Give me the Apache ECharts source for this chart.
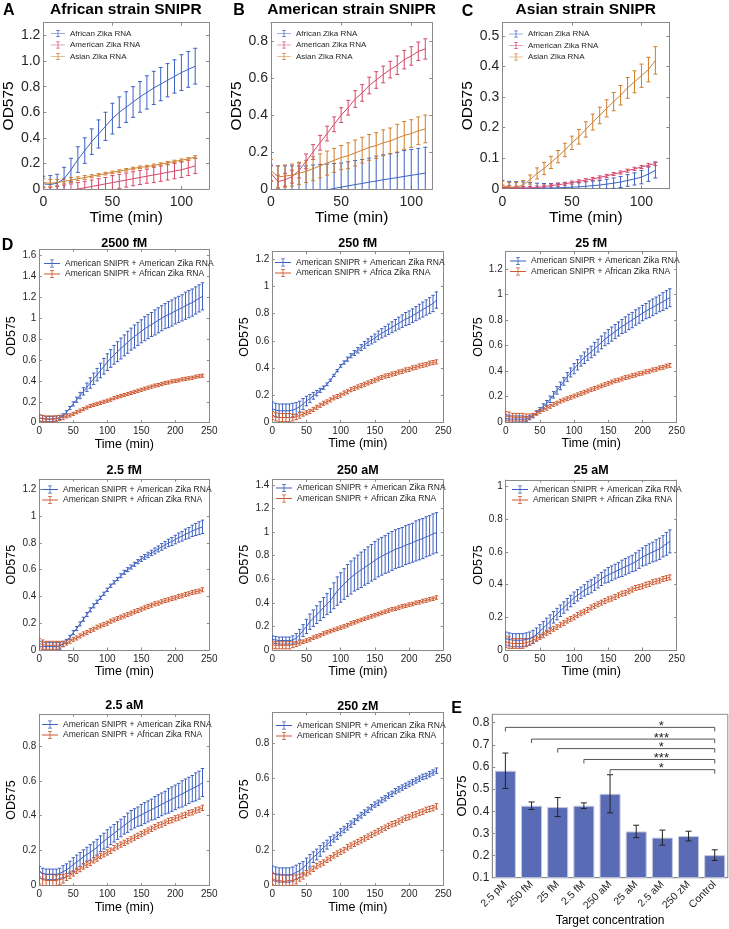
<!DOCTYPE html>
<html><head><meta charset="utf-8">
<script src="https://cdn.jsdelivr.net/npm/echarts@6/dist/echarts.min.js"></script>
<style>html,body{margin:0;padding:0;background:#fff}#c{width:729px;height:929px}</style>
</head><body><div id="c"></div>
<script>
// ---------- DATA ----------
const timeABC = [0,5,10,15,20,25,30,35,40,45,50,55,60,65,70,75,80,85,90,95,100,105,110];
// Panel A: African strain SNIPR
const A_afr = [0.04,0.035,0.045,0.08,0.15,0.23,0.3,0.37,0.43,0.49,0.55,0.6,0.64,0.68,0.72,0.755,0.79,0.82,0.85,0.88,0.91,0.935,0.96];
const A_afr_err = [0.06,0.07,0.07,0.09,0.09,0.1,0.1,0.1,0.11,0.11,0.12,0.12,0.12,0.12,0.12,0.13,0.13,0.13,0.13,0.13,0.14,0.14,0.14];
const A_ame = [-0.04,-0.035,-0.03,-0.02,-0.01,0.0,0.01,0.02,0.03,0.04,0.05,0.06,0.07,0.08,0.09,0.1,0.11,0.12,0.13,0.14,0.15,0.165,0.18];
const A_ame_err = [0.05,0.05,0.05,0.05,0.05,0.05,0.05,0.05,0.05,0.05,0.055,0.055,0.055,0.055,0.055,0.055,0.06,0.06,0.06,0.06,0.06,0.06,0.06];
const A_asi = [0.05,0.045,0.05,0.06,0.07,0.08,0.09,0.1,0.11,0.12,0.13,0.14,0.15,0.16,0.17,0.175,0.185,0.195,0.205,0.215,0.225,0.235,0.25];
const A_asi_err = [0.03,0.03,0.025,0.02,0.02,0.015,0.015,0.012,0.01,0.01,0.01,0.01,0.01,0.01,0.01,0.01,0.01,0.01,0.01,0.01,0.01,0.01,0.01];
// Panel B: American strain SNIPR
const B_afr = [-0.04,-0.045,-0.04,-0.035,-0.03,-0.025,-0.02,-0.012,-0.005,0.003,0.01,0.017,0.024,0.03,0.037,0.043,0.05,0.056,0.062,0.068,0.074,0.08,0.086];
const B_afr_err = [0.17,0.17,0.165,0.16,0.155,0.15,0.15,0.145,0.14,0.135,0.13,0.13,0.13,0.13,0.13,0.135,0.135,0.135,0.135,0.14,0.14,0.14,0.14];
const B_ame = [0.085,0.04,0.05,0.067,0.1,0.15,0.2,0.25,0.3,0.35,0.4,0.44,0.487,0.52,0.56,0.59,0.62,0.646,0.67,0.7,0.72,0.745,0.758];
const B_ame_err = [0.04,0.035,0.035,0.035,0.04,0.04,0.04,0.04,0.04,0.04,0.04,0.04,0.045,0.045,0.045,0.045,0.045,0.045,0.05,0.05,0.05,0.05,0.055];
const B_asi = [0.1,0.065,0.07,0.075,0.085,0.095,0.11,0.125,0.14,0.155,0.17,0.18,0.195,0.21,0.225,0.235,0.25,0.26,0.275,0.29,0.3,0.315,0.325];
const B_asi_err = [0.06,0.06,0.06,0.06,0.06,0.06,0.065,0.065,0.065,0.065,0.065,0.07,0.07,0.07,0.07,0.07,0.07,0.07,0.075,0.075,0.075,0.075,0.075];
// Panel C: Asian strain SNIPR
const C_afr = [0.005,0.004,0.003,0.002,0.002,0.002,0.002,0.002,0.003,0.004,0.005,0.006,0.008,0.01,0.012,0.015,0.018,0.022,0.027,0.032,0.038,0.048,0.06];
const C_afr_err = [0.022,0.02,0.02,0.02,0.018,0.016,0.015,0.015,0.015,0.015,0.015,0.015,0.015,0.015,0.015,0.016,0.017,0.018,0.019,0.02,0.022,0.024,0.025];
const C_ame = [0.004,0.003,0.002,0.002,0.002,0.004,0.007,0.01,0.013,0.016,0.02,0.024,0.028,0.032,0.037,0.042,0.048,0.053,0.059,0.065,0.071,0.077,0.082];
const C_ame_err = [0.008,0.007,0.006,0.005,0.005,0.005,0.005,0.005,0.005,0.005,0.005,0.005,0.005,0.005,0.005,0.005,0.005,0.005,0.005,0.005,0.005,0.006,0.006];
const C_asi = [0.01,0.005,0.005,0.012,0.03,0.05,0.066,0.086,0.105,0.127,0.15,0.17,0.194,0.218,0.24,0.263,0.285,0.306,0.33,0.35,0.37,0.39,0.42];
const C_asi_err = [0.015,0.015,0.015,0.015,0.015,0.018,0.02,0.02,0.02,0.022,0.022,0.024,0.025,0.026,0.027,0.028,0.03,0.032,0.034,0.036,0.038,0.04,0.045];

// Panel D: time course, American SNIPR
const timeD = [0,5,10,15,20,25,30,35,40,45,50,55,60,65,70,75,80,85,90,95,100,105,110,115,120,125,130,135,140,145,150,155,160,165,170,175,180,185,190,195,200,205,210,215,220,225,230,235,240];
const d2500_ame = [0.045,0.04,0.035,0.035,0.035,0.04,0.05,0.07,0.1,0.14, 0.18,0.22,0.26,0.3,0.34,0.38,0.42,0.46,0.5,0.54, 0.58,0.615,0.65,0.68,0.71,0.74,0.77,0.8,0.825,0.85, 0.875,0.9,0.92,0.94,0.96,0.98,1.0,1.02,1.035,1.05, 1.07,1.085,1.1,1.12,1.135,1.15,1.17,1.19,1.21];
const d2500_ame_err = [0.03,0.03,0.025,0.025,0.025,0.025,0.02,0.015,0.015,0.015, 0.02,0.025,0.03,0.035,0.04,0.05,0.055,0.06,0.07,0.075, 0.08,0.085,0.09,0.095,0.1,0.1,0.105,0.105,0.11,0.11, 0.11,0.115,0.115,0.115,0.12,0.12,0.12,0.12,0.125,0.125, 0.125,0.125,0.125,0.13,0.13,0.13,0.13,0.13,0.13];
const d2500_afr = [0.045,0.04,0.035,0.035,0.035,0.04,0.045,0.05,0.06,0.07, 0.085,0.1,0.115,0.13,0.145,0.16,0.17,0.18,0.19,0.2, 0.21,0.22,0.235,0.245,0.255,0.265,0.275,0.285,0.295,0.305, 0.315,0.325,0.335,0.345,0.355,0.36,0.37,0.38,0.385,0.395, 0.4,0.405,0.415,0.42,0.425,0.43,0.44,0.445,0.45];
const d2500_afr_err = [0.03,0.03,0.03,0.03,0.03,0.025,0.025,0.02,0.015,0.015, 0.015,0.015,0.015,0.015,0.015,0.015,0.015,0.015,0.015,0.015, 0.015,0.015,0.015,0.015,0.015,0.015,0.015,0.015,0.015,0.015, 0.015,0.015,0.015,0.015,0.015,0.015,0.015,0.015,0.015,0.015, 0.015,0.015,0.015,0.015,0.015,0.015,0.015,0.015,0.015];

const d250f_ame = [0.1,0.09,0.085,0.085,0.085,0.085,0.09,0.1,0.115,0.135, 0.157,0.175,0.195,0.215,0.235,0.255,0.28,0.31,0.345,0.38, 0.415,0.44,0.465,0.49,0.51,0.53,0.55,0.57,0.59,0.605, 0.62,0.64,0.655,0.67,0.685,0.7,0.715,0.73,0.745,0.76, 0.77,0.785,0.8,0.815,0.83,0.845,0.86,0.875,0.9];
const d250f_ame_err = [0.05,0.05,0.05,0.05,0.05,0.05,0.05,0.045,0.04,0.04, 0.035,0.03,0.025,0.02,0.015,0.012,0.01,0.008,0.008,0.008, 0.01,0.012,0.015,0.015,0.018,0.02,0.022,0.025,0.025,0.028, 0.03,0.032,0.034,0.036,0.038,0.04,0.042,0.044,0.046,0.048, 0.05,0.05,0.052,0.054,0.055,0.056,0.058,0.06,0.06];
const d250f_afr = [0.05,0.04,0.035,0.035,0.035,0.035,0.035,0.04,0.05,0.06, 0.07,0.08,0.095,0.11,0.125,0.14,0.15,0.165,0.18,0.19, 0.2,0.215,0.225,0.24,0.25,0.26,0.27,0.28,0.29,0.3, 0.31,0.32,0.33,0.34,0.345,0.355,0.36,0.37,0.375,0.385, 0.39,0.4,0.405,0.415,0.42,0.425,0.435,0.44,0.445];
const d250f_afr_err = [0.03,0.03,0.03,0.03,0.03,0.03,0.025,0.02,0.02,0.015, 0.015,0.015,0.015,0.015,0.015,0.015,0.015,0.015,0.015,0.015, 0.015,0.015,0.015,0.015,0.015,0.015,0.015,0.015,0.015,0.015, 0.015,0.015,0.015,0.015,0.015,0.015,0.015,0.015,0.015,0.015, 0.015,0.015,0.015,0.015,0.015,0.015,0.015,0.015,0.015];

const d25f_ame = [0.03,0.025,0.025,0.025,0.025,0.025,0.025,0.035,0.05,0.075, 0.1,0.125,0.15,0.18,0.215,0.25,0.285,0.32,0.355,0.39, 0.42,0.45,0.48,0.505,0.53,0.55,0.575,0.6,0.625,0.65, 0.67,0.69,0.71,0.73,0.75,0.765,0.785,0.8,0.82,0.835, 0.855,0.87,0.885,0.9,0.915,0.93,0.945,0.96,0.975];
const d25f_ame_err = [0.03,0.03,0.025,0.025,0.025,0.025,0.02,0.015,0.015,0.015, 0.015,0.02,0.02,0.025,0.025,0.03,0.03,0.03,0.035,0.035, 0.04,0.04,0.04,0.045,0.045,0.045,0.05,0.05,0.05,0.05, 0.055,0.055,0.055,0.055,0.055,0.06,0.06,0.06,0.06,0.06, 0.06,0.06,0.065,0.065,0.065,0.065,0.07,0.07,0.07];
const d25f_afr = [0.05,0.045,0.04,0.04,0.04,0.04,0.04,0.045,0.055,0.07, 0.085,0.1,0.11,0.125,0.14,0.15,0.165,0.175,0.185,0.195, 0.205,0.215,0.225,0.235,0.245,0.255,0.265,0.275,0.285,0.295, 0.305,0.315,0.325,0.33,0.34,0.35,0.355,0.365,0.37,0.38, 0.385,0.395,0.4,0.41,0.415,0.425,0.43,0.44,0.445];
const d25f_afr_err = [0.035,0.035,0.03,0.03,0.03,0.03,0.025,0.02,0.015,0.015, 0.015,0.015,0.015,0.015,0.015,0.015,0.015,0.015,0.015,0.015, 0.015,0.015,0.015,0.015,0.015,0.015,0.015,0.015,0.015,0.015, 0.015,0.015,0.015,0.015,0.015,0.015,0.015,0.015,0.015,0.015, 0.015,0.015,0.015,0.015,0.015,0.015,0.015,0.015,0.015];

const d2p5f_ame = [0.03,0.025,0.025,0.025,0.025,0.025,0.03,0.045,0.065,0.095, 0.13,0.16,0.195,0.23,0.265,0.3,0.33,0.36,0.39,0.42, 0.45,0.48,0.505,0.53,0.555,0.58,0.6,0.62,0.64,0.66, 0.68,0.695,0.71,0.725,0.74,0.755,0.77,0.785,0.8,0.81, 0.825,0.84,0.85,0.865,0.875,0.89,0.9,0.91,0.92];
const d2p5f_ame_err = [0.035,0.035,0.03,0.03,0.03,0.03,0.025,0.02,0.015,0.015, 0.015,0.015,0.015,0.015,0.015,0.015,0.015,0.012,0.012,0.012, 0.012,0.012,0.012,0.012,0.015,0.015,0.015,0.015,0.015,0.015, 0.018,0.018,0.02,0.02,0.022,0.022,0.025,0.025,0.028,0.03, 0.032,0.034,0.036,0.038,0.04,0.042,0.045,0.048,0.05];
const d2p5f_afr = [0.05,0.04,0.035,0.035,0.035,0.035,0.04,0.045,0.055,0.065, 0.08,0.09,0.105,0.12,0.13,0.145,0.155,0.17,0.18,0.19, 0.2,0.215,0.225,0.235,0.245,0.255,0.265,0.275,0.285,0.295, 0.305,0.315,0.325,0.335,0.345,0.35,0.36,0.37,0.375,0.385, 0.39,0.4,0.405,0.415,0.42,0.43,0.435,0.44,0.45];
const d2p5f_afr_err = [0.035,0.035,0.03,0.03,0.03,0.03,0.025,0.02,0.018,0.015, 0.015,0.015,0.015,0.015,0.015,0.015,0.015,0.015,0.015,0.015, 0.015,0.015,0.015,0.015,0.015,0.015,0.015,0.015,0.015,0.015, 0.015,0.015,0.015,0.015,0.015,0.015,0.015,0.015,0.015,0.015, 0.015,0.015,0.015,0.015,0.015,0.015,0.015,0.015,0.015];

const d250a_ame = [0.09,0.085,0.08,0.08,0.08,0.08,0.085,0.1,0.13,0.165, 0.2,0.24,0.27,0.3,0.33,0.36,0.39,0.42,0.46,0.5, 0.53,0.56,0.59,0.615,0.64,0.66,0.68,0.7,0.72,0.74, 0.76,0.78,0.795,0.81,0.825,0.84,0.855,0.865,0.875,0.89, 0.9,0.91,0.925,0.935,0.945,0.96,0.97,0.985,0.995];
const d250a_ame_err = [0.03,0.03,0.03,0.03,0.03,0.03,0.035,0.04,0.045,0.05, 0.06,0.065,0.07,0.075,0.08,0.085,0.09,0.1,0.11,0.12, 0.125,0.13,0.135,0.14,0.14,0.145,0.15,0.15,0.155,0.155, 0.16,0.16,0.16,0.16,0.165,0.165,0.165,0.165,0.165,0.165, 0.165,0.165,0.17,0.17,0.17,0.17,0.17,0.17,0.17];
const d250a_afr = [0.045,0.04,0.04,0.04,0.04,0.04,0.045,0.05,0.06,0.07, 0.08,0.09,0.105,0.115,0.125,0.14,0.15,0.16,0.17,0.18, 0.19,0.2,0.21,0.225,0.235,0.245,0.255,0.265,0.275,0.285, 0.295,0.305,0.315,0.325,0.335,0.345,0.35,0.36,0.37,0.375, 0.385,0.39,0.4,0.405,0.415,0.42,0.43,0.435,0.445];
const d250a_afr_err = [0.03,0.03,0.03,0.03,0.03,0.03,0.025,0.02,0.018,0.015, 0.015,0.015,0.015,0.015,0.015,0.015,0.015,0.015,0.015,0.015, 0.015,0.015,0.015,0.015,0.015,0.015,0.015,0.015,0.015,0.015, 0.015,0.015,0.015,0.015,0.015,0.015,0.015,0.015,0.015,0.015, 0.015,0.015,0.015,0.015,0.015,0.015,0.015,0.015,0.015];

const d25a_ame = [0.07,0.065,0.06,0.06,0.06,0.06,0.065,0.07,0.08,0.095, 0.115,0.135,0.155,0.175,0.2,0.22,0.24,0.26,0.28,0.3, 0.32,0.335,0.35,0.365,0.38,0.39,0.405,0.42,0.435,0.45, 0.46,0.47,0.48,0.49,0.5,0.51,0.52,0.53,0.54,0.555, 0.57,0.58,0.59,0.6,0.61,0.62,0.635,0.65,0.665];
const d25a_ame_err = [0.04,0.04,0.04,0.04,0.04,0.04,0.04,0.04,0.04,0.04, 0.04,0.04,0.04,0.04,0.035,0.035,0.035,0.035,0.035,0.035, 0.035,0.035,0.035,0.035,0.04,0.04,0.04,0.04,0.04,0.04, 0.045,0.045,0.045,0.045,0.05,0.05,0.05,0.05,0.055,0.055, 0.055,0.06,0.06,0.06,0.065,0.065,0.065,0.07,0.07];
const d25a_afr = [0.05,0.045,0.04,0.04,0.04,0.04,0.045,0.05,0.06,0.07, 0.08,0.09,0.105,0.115,0.13,0.14,0.155,0.165,0.18,0.19, 0.2,0.215,0.225,0.235,0.245,0.26,0.27,0.28,0.29,0.3, 0.31,0.315,0.325,0.335,0.345,0.35,0.36,0.37,0.38,0.385, 0.39,0.4,0.405,0.415,0.42,0.425,0.435,0.44,0.445];
const d25a_afr_err = [0.035,0.035,0.03,0.03,0.03,0.03,0.025,0.02,0.018,0.015, 0.015,0.015,0.015,0.015,0.015,0.015,0.015,0.015,0.015,0.015, 0.015,0.015,0.015,0.015,0.015,0.015,0.015,0.015,0.015,0.015, 0.015,0.015,0.015,0.015,0.015,0.015,0.015,0.015,0.015,0.015, 0.015,0.015,0.015,0.015,0.015,0.015,0.015,0.015,0.015];

const d2p5a_ame = [0.08,0.07,0.065,0.065,0.065,0.065,0.07,0.08,0.09,0.105, 0.12,0.135,0.15,0.165,0.18,0.19,0.205,0.22,0.24,0.255, 0.27,0.285,0.3,0.315,0.33,0.345,0.36,0.375,0.385,0.395, 0.405,0.415,0.425,0.435,0.445,0.455,0.465,0.475,0.485,0.495, 0.505,0.515,0.525,0.535,0.545,0.555,0.565,0.575,0.59];
const d2p5a_ame_err = [0.03,0.03,0.03,0.03,0.03,0.03,0.03,0.035,0.035,0.035, 0.04,0.04,0.04,0.04,0.04,0.045,0.045,0.045,0.045,0.045, 0.05,0.05,0.05,0.05,0.05,0.05,0.055,0.055,0.055,0.055, 0.06,0.06,0.06,0.06,0.065,0.065,0.065,0.065,0.07,0.07, 0.07,0.07,0.075,0.075,0.075,0.075,0.08,0.08,0.08];
const d2p5a_afr = [0.045,0.035,0.03,0.03,0.03,0.03,0.035,0.04,0.05,0.06, 0.07,0.085,0.095,0.11,0.12,0.13,0.145,0.155,0.17,0.18, 0.19,0.2,0.215,0.225,0.235,0.245,0.255,0.265,0.275,0.285, 0.295,0.305,0.315,0.325,0.335,0.345,0.35,0.36,0.37,0.375, 0.385,0.39,0.4,0.405,0.415,0.42,0.43,0.435,0.445];
const d2p5a_afr_err = [0.035,0.035,0.035,0.035,0.035,0.03,0.03,0.025,0.02,0.018, 0.015,0.015,0.015,0.015,0.015,0.015,0.015,0.015,0.015,0.015, 0.015,0.015,0.015,0.015,0.015,0.015,0.015,0.015,0.015,0.015, 0.015,0.015,0.015,0.015,0.015,0.015,0.015,0.015,0.015,0.015, 0.015,0.015,0.015,0.015,0.015,0.015,0.015,0.015,0.015];

const d250z_ame = [0.07,0.065,0.06,0.06,0.06,0.06,0.065,0.075,0.085,0.1, 0.12,0.14,0.16,0.175,0.195,0.215,0.23,0.25,0.265,0.28, 0.3,0.315,0.33,0.345,0.36,0.38,0.395,0.41,0.425,0.44, 0.455,0.465,0.48,0.49,0.505,0.515,0.53,0.54,0.55,0.56, 0.57,0.58,0.59,0.6,0.61,0.615,0.625,0.635,0.645];
const d250z_ame_err = [0.04,0.04,0.04,0.04,0.04,0.04,0.04,0.04,0.04,0.035, 0.035,0.035,0.03,0.03,0.03,0.025,0.025,0.025,0.02,0.02, 0.02,0.018,0.018,0.018,0.016,0.016,0.016,0.015,0.015,0.015, 0.015,0.015,0.015,0.015,0.015,0.015,0.015,0.015,0.015,0.015, 0.015,0.015,0.015,0.015,0.015,0.015,0.015,0.015,0.015];
const d250z_afr = [0.04,0.03,0.03,0.025,0.025,0.03,0.03,0.035,0.045,0.055, 0.07,0.08,0.095,0.11,0.12,0.13,0.145,0.155,0.17,0.18, 0.19,0.2,0.215,0.225,0.235,0.245,0.255,0.265,0.275,0.285, 0.295,0.305,0.315,0.325,0.335,0.345,0.35,0.36,0.37,0.38, 0.385,0.395,0.4,0.41,0.415,0.425,0.43,0.435,0.445];
const d250z_afr_err = [0.035,0.035,0.035,0.035,0.035,0.03,0.03,0.025,0.02,0.018, 0.015,0.015,0.015,0.015,0.015,0.015,0.015,0.015,0.015,0.015, 0.015,0.015,0.015,0.015,0.015,0.015,0.015,0.015,0.015,0.015, 0.015,0.015,0.015,0.015,0.015,0.015,0.015,0.015,0.015,0.015, 0.015,0.015,0.015,0.015,0.015,0.015,0.015,0.015,0.015];

// Panel E: end-point OD575 by target concentration
const eCats = ['2.5 pM','250 fM','25 fM','2.5 fM','250 aM','25 aM','2.5 aM','250 zM','Control'];
const eMeans = [0.583,0.425,0.419,0.425,0.479,0.309,0.281,0.288,0.202];
const eErr = [0.08,0.017,0.043,0.013,0.086,0.028,0.034,0.022,0.024];
const sigFrom = [0,1,2,3,4];
const sigTo = [8,8,8,8,8];
const sigLevel = [0.779,0.726,0.683,0.634,0.588];
const sigStars = ['*','***','*','***','*'];

// ---------- BUILD ----------
const FONT = '"Liberation Sans", Arial, Helvetica, sans-serif';
const AX = '#8a8a8a', TXT = '#262626';
const C_BLUE = '#3D62C4', C_PINK = '#D5486B', C_ORANGE = '#CF7E2E';
const D_BLUE = '#3E60C0', D_RED = '#CE5A32';
const ICON = 'path://M0,4.5H20V5.5H0Z M9.5,0H10.5V10H9.5Z M7.5,0H12.5V1H7.5Z M7.5,9H12.5V10H7.5Z';
const option = {animation:false, grid:[], xAxis:[], yAxis:[], series:[], legend:[], graphic:[]};

function errRender(cap){
  return function(params, api){
    const x = api.value(0), y = api.value(1), e = api.value(2);
    const p1 = api.coord([x, y + e]), p2 = api.coord([x, y - e]);
    const st = {stroke: api.visual('color'), lineWidth: 1};
    return {type:'group', children:[
      {type:'line', shape:{x1:p1[0], y1:p1[1], x2:p2[0], y2:p2[1]}, style:st},
      {type:'line', shape:{x1:p1[0]-cap, y1:p1[1], x2:p1[0]+cap, y2:p1[1]}, style:st},
      {type:'line', shape:{x1:p2[0]-cap, y1:p2[1], x2:p2[0]+cap, y2:p2[1]}, style:st}
    ]};
  };
}
function txt(text, x, y, size, bold){
  option.graphic.push({type:'text', x:x, y:y, silent:true, style:{text:text, fontFamily:FONT, fontSize:size,
    fontWeight: bold ? 'bold' : 'normal', fill:'#000', align:'center', verticalAlign:'middle',
    textAlign:'center', textVerticalAlign:'middle'}});
}
function fmt1(v){ return v === 0 ? '0' : v.toFixed(1); }

function panel(p){
  const gi = option.grid.length, xi = option.xAxis.length, yi = option.yAxis.length;
  option.grid.push({left:p.l, top:p.t, width:p.w, height:p.h});
  const lab = {color:TXT, fontFamily:FONT, fontSize:p.tf};
  const line = {show:true, onZero:false, lineStyle:{color:AX, width:1}};
  const tick = {show:true, inside:true, length:p.tl, lineStyle:{color:AX}};
  const xb = {type:'value', gridIndex:gi, min:0, max:p.xMax, interval:p.xInt, splitLine:{show:false}, axisLine:line, axisTick:tick};
  option.xAxis.push(Object.assign({}, xb, {position:'bottom',
    axisLabel:Object.assign({margin:p.xm, showMaxLabel:p.xShowMax, showMinLabel:true}, lab),
    name:'Time (min)', nameLocation:'middle', nameGap:p.xng,
    nameTextStyle:{fontFamily:FONT, fontSize:p.nf, color:'#000'}}));
  option.xAxis.push(Object.assign({}, xb, {position:'top', axisLabel:{show:false}}));
  const yb = {type:'value', gridIndex:gi, min:0, max:p.yMax, interval:p.yInt, splitLine:{show:false}, axisLine:line, axisTick:tick};
  option.yAxis.push(Object.assign({}, yb, {position:'left',
    axisLabel:Object.assign({margin:p.ym, showMaxLabel:false, formatter:p.yFmt}, lab),
    name:'OD575', nameLocation:'middle', nameGap:p.yng,
    nameTextStyle:{fontFamily:FONT, fontSize:p.nf2 || p.nf, color:'#000'}}));
  option.yAxis.push(Object.assign({}, yb, {position:'right', axisLabel:{show:false}}));
  p.series.forEach(function(s){
    option.series.push({type:'line', name:s.name, xAxisIndex:xi, yAxisIndex:yi,
      data:p.time.map(function(t,i){return [t, s.v[i]];}),
      symbol:'none', showSymbol:false, clip:true, z:3,
      lineStyle:{color:s.c, width:1}, itemStyle:{color:s.c}});
    option.series.push({type:'custom', xAxisIndex:xi, yAxisIndex:yi, clip:true, z:2,
      data:p.time.map(function(t,i){return [t, s.v[i], s.e[i]];}),
      encode:{x:0, y:1}, renderItem:errRender(p.cap), itemStyle:{color:s.c}});
  });
  option.legend.push({orient:'vertical', left:p.lgL, top:p.lgT, padding:0, itemGap:p.lgGap,
    itemWidth:p.iw, itemHeight:p.ih, selectedMode:false,
    textStyle:{fontSize:p.lf, color:TXT, fontFamily:FONT},
    data:p.series.map(function(s){return {name:s.name, icon:ICON};})});
  txt(p.title, p.l + p.w/2, p.titleY, p.titleF, true);
}

// Top row A-C
const topCommon = {time:timeABC, xInt:50, xShowMax:false, tf:14, nf:15.5, nf2:15.5, tl:3, xm:6, ym:3, xng:20,
  cap:2, iw:14, ih:7, lf:8, lgGap:3.5, titleF:15.5, titleY:10, yFmt:fmt1};
panel(Object.assign({}, topCommon, {title:'African strain SNIPR', l:42.7, t:22.7, w:166.3, h:166.3, xMax:120,
  yMax:1.3, yInt:0.2, yng:24, lgL:51, lgT:29.5,
  series:[{name:'African Zika RNA', v:A_afr, e:A_afr_err, c:C_BLUE},
          {name:'American Zika RNA', v:A_ame, e:A_ame_err, c:C_PINK},
          {name:'Asian Zika RNA', v:A_asi, e:A_asi_err, c:C_ORANGE}]}));
panel(Object.assign({}, topCommon, {title:'American strain SNIPR', l:271, t:22.7, w:161.3, h:166.3, xMax:115,
  yMax:0.9, yInt:0.2, yng:25, lgL:277, lgT:29.5,
  series:[{name:'African Zika RNA', v:B_afr, e:B_afr_err, c:C_BLUE},
          {name:'American Zika RNA', v:B_ame, e:B_ame_err, c:C_PINK},
          {name:'Asian Zika RNA', v:B_asi, e:B_asi_err, c:C_ORANGE}]}));
panel(Object.assign({}, topCommon, {title:'Asian strain SNIPR', l:502.3, t:22.7, w:167, h:166, xMax:120,
  yMax:0.5435, yInt:0.1, yng:20, lgL:509, lgT:30,
  series:[{name:'African Zika RNA', v:C_afr, e:C_afr_err, c:C_BLUE},
          {name:'American Zika RNA', v:C_ame, e:C_ame_err, c:C_PINK},
          {name:'Asian Zika RNA', v:C_asi, e:C_asi_err, c:C_ORANGE}]}));

// Panel D
const AM = 'American SNIPR + American Zika RNA', AF = 'American SNIPR + African Zika RNA', AF2 = 'American SNIPR + Africa Zika RNA';
const dCommon = {time:timeD, xInt:50, xMax:250, xShowMax:true, tf:10, nf:12.5, tl:2.5, xm:4, ym:3, xng:15, yng:17,
  cap:1.7, iw:16, ih:8, lf:8.5, lgGap:1.5, titleF:12.5, yFmt:null};
function dp(title, l, t, w, h, yMax, v1, e1, v2, e2, lgL, lgT, titleY, afName){
  panel(Object.assign({}, dCommon, {title:title, l:l, t:t, w:w, h:h, yMax:yMax, yInt:0.2, lgL:lgL, lgT:lgT, titleY:titleY,
    series:[{name:AM, v:v1, e:e1, c:D_BLUE}, {name:afName || AF, v:v2, e:e2, c:D_RED}]}));
}
dp('2500 fM', 39.3, 249.3, 170, 173.4, 1.66, d2500_ame, d2500_ame_err, d2500_afr, d2500_afr_err, 44, 259, 244);
dp('250 fM', 272.3, 251.7, 171, 170.6, 1.256, d250f_ame, d250f_ame_err, d250f_afr, d250f_afr_err, 275, 258, 243.5, AF2);
dp('25 fM', 505.7, 251.7, 171, 170.6, 1.335, d25f_ame, d25f_ame_err, d25f_afr, d25f_afr_err, 510, 256.5, 243.5);
dp('2.5 fM', 39.3, 479.3, 170, 170.7, 1.275, d2p5f_ame, d2p5f_ame_err, d2p5f_afr, d2p5f_afr_err, 42, 485, 471);
dp('250 aM', 272.3, 479.3, 171, 170.7, 1.448, d250a_ame, d250a_ame_err, d250a_afr, d250a_afr_err, 276, 483.5, 471);
dp('25 aM', 505.7, 480, 171, 170, 1.041, d25a_ame, d25a_ame_err, d25a_afr, d25a_afr_err, 512, 485, 471);
dp('2.5 aM', 39.3, 714.3, 170, 171.4, 0.98, d2p5a_ame, d2p5a_ame_err, d2p5a_afr, d2p5a_afr_err, 42, 720, 706);
dp('250 zM', 272.3, 712.7, 171, 173, 0.97, d250z_ame, d250z_ame_err, d250z_afr, d250z_afr_err, 276, 721, 706.5);

// Panel E
(function(){
  const gi = option.grid.length, xi = option.xAxis.length, yi = option.yAxis.length;
  option.grid.push({left:492.3, top:714.3, width:235.5, height:163.4, show:true, borderColor:AX, borderWidth:1, backgroundColor:'transparent'});
  option.xAxis.push({type:'category', gridIndex:gi, data:eCats, axisTick:{show:false},
    axisLine:{show:true, lineStyle:{color:AX}},
    axisLabel:{rotate:45, interval:0, fontSize:10.5, color:TXT, fontFamily:FONT, margin:5},
    name:'Target concentration', nameLocation:'middle', nameGap:37,
    nameTextStyle:{fontFamily:FONT, fontSize:12, color:'#000'}});
  option.yAxis.push({type:'value', gridIndex:gi, min:0.1, max:0.838, interval:0.1, splitLine:{show:false},
    axisLine:{show:true, lineStyle:{color:AX}}, axisTick:{show:true, inside:true, length:3, lineStyle:{color:AX}},
    axisLabel:{fontSize:12, color:TXT, fontFamily:FONT, margin:3, showMaxLabel:false, formatter:function(v){return v.toFixed(1);}},
    name:'OD575', nameLocation:'middle', nameGap:21, nameTextStyle:{fontFamily:FONT, fontSize:13, color:'#000'}});
  option.series.push({type:'bar', xAxisIndex:xi, yAxisIndex:yi, data:eMeans, barWidth:21, clip:true,
    itemStyle:{color:'#5A6BB6', borderColor:'#c4c8de', borderWidth:1}});
  option.series.push({type:'custom', xAxisIndex:xi, yAxisIndex:yi, clip:true, z:3,
    data:eMeans.map(function(v,i){return [i, v, eErr[i]];}), encode:{x:0, y:1},
    itemStyle:{color:'#222'}, renderItem:errRender(3)});
  option.series.push({type:'custom', xAxisIndex:xi, yAxisIndex:yi, z:4,
    data:sigFrom.map(function(f,i){return [f, sigTo[i], sigLevel[i]];}), encode:{x:[0,1], y:2},
    renderItem:function(params, api){
      const a = api.coord([api.value(0), api.value(2)]);
      const b = api.coord([api.value(1), api.value(2)]);
      const m = api.coord([6, api.value(2)]);
      return {type:'group', children:[
        {type:'polyline', shape:{points:[[a[0], a[1]+4], [a[0], a[1]], [b[0], b[1]], [b[0], b[1]+4]]},
          style:{stroke:'#555', fill:null, lineWidth:1}},
        {type:'text', x:m[0]-1, y:a[1]-1, style:{text:sigStars[params.dataIndex], fontFamily:FONT, fontSize:13,
          fill:'#222', align:'center', verticalAlign:'middle'}}
      ]};
    }});
})();

// Panel letters
txt('A', 8.7, 11, 16, true);
txt('B', 239, 11, 16, true);
txt('C', 467.5, 12, 16, true);
txt('D', 7.5, 246, 16, true);
txt('E', 456.7, 709, 16, true);

const chart = echarts.init(document.getElementById('c'), null, {renderer:'canvas'});
chart.setOption(option);
</script>
</body></html>
